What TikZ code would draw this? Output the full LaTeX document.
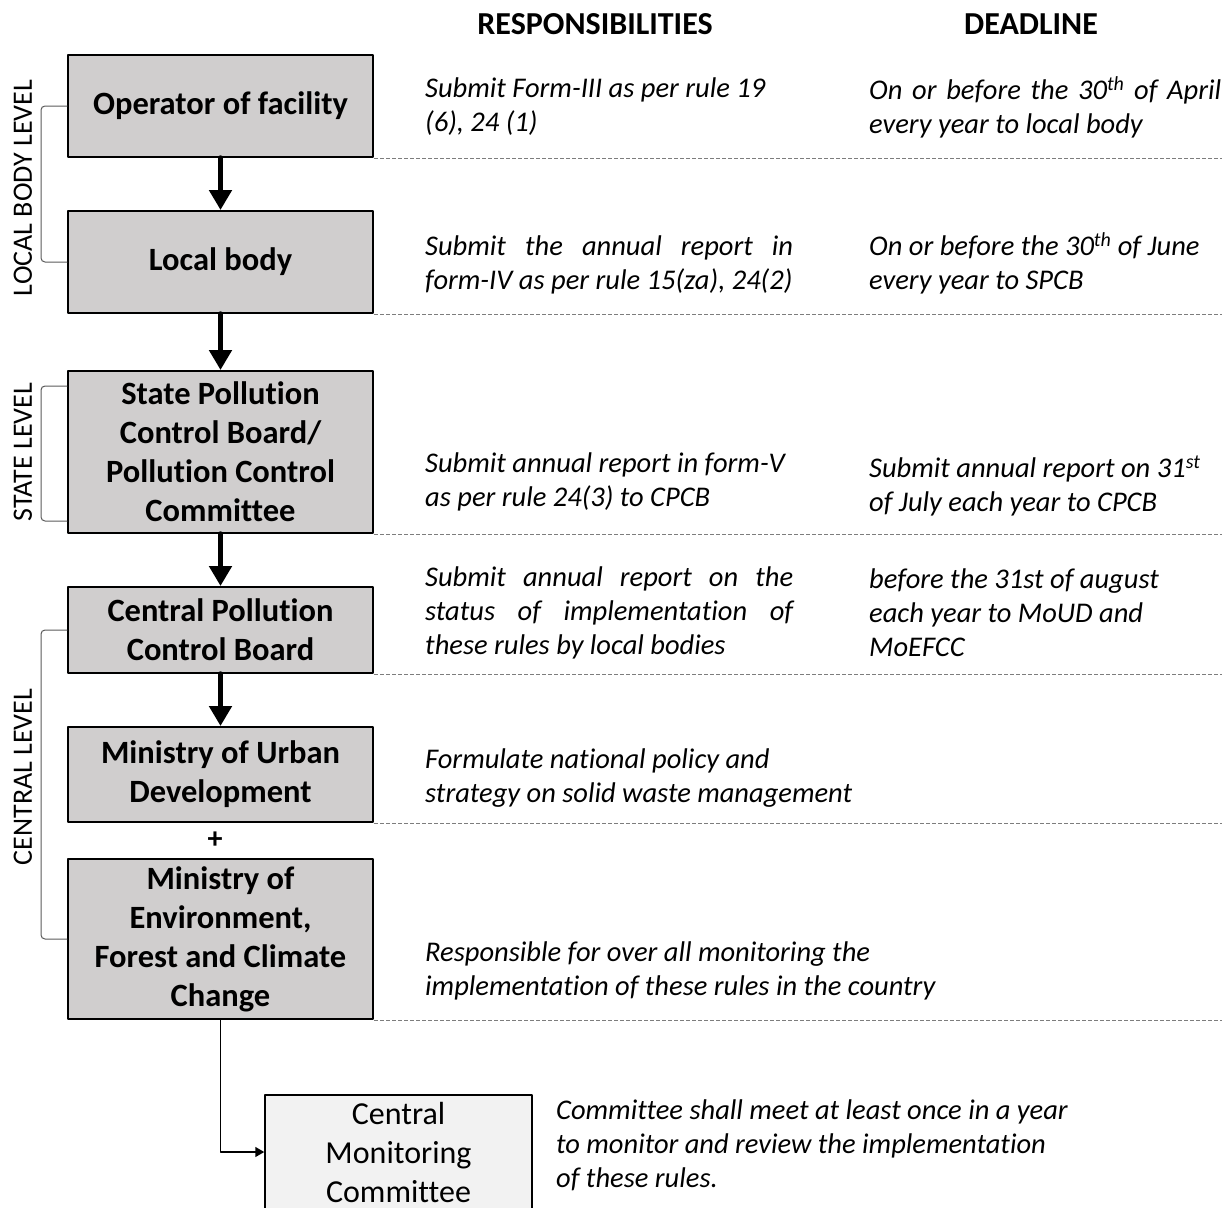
\documentclass[tikz,border=0pt]{standalone}
\usepackage{fontspec}
\setmainfont{Carlito}[Ligatures=NoCommon]
\usepackage{tikz}
\usetikzlibrary{arrows.meta,calc}
\definecolor{boxgray}{RGB}{208,206,206}
\definecolor{lightbox}{RGB}{242,242,242}
\definecolor{dashgray}{RGB}{125,125,125}
\definecolor{bracegray}{RGB}{90,90,90}

\begin{document}
\begin{tikzpicture}[line cap=round,line join=round,x=1pt,y=-1pt,
  orgbox/.style={draw,line width=2pt,fill=boxgray,minimum width=305pt,inner sep=0pt,
    align=center,font=\fontsize{32.5}{39}\selectfont\bfseries},
  monbox/.style={draw,line width=1.5pt,fill=lightbox,minimum width=267pt,minimum height=114pt,
    inner sep=0pt,align=center,font=\fontsize{32}{39}\selectfont},
  flowarr/.style={line width=5.5pt,-{Triangle[width=22pt,length=20pt]}},
  linkarr/.style={line width=1.5pt,line cap=butt,-{Triangle[width=10pt,length=9pt]}},
  sepline/.style={draw=dashgray,line width=1pt,line cap=butt,dash pattern=on 3.5pt off 2.5pt},
  levelbrace/.style={draw=bracegray,line width=1pt,rounded corners=4pt},
  levellabel/.style={rotate=90,inner sep=0pt,font=\fontsize{28}{30}\selectfont},
  headtext/.style={inner sep=0pt,font=\fontsize{32}{34}\selectfont\bfseries},
  resptext/.style={anchor=west,inner sep=0pt,align=left,font=\fontsize{28.5}{34}\selectfont\itshape}]
\useasboundingbox (0,0) rectangle (1231,1207);
\clip (0,0) rectangle (1231,1207);
% headings
\node[headtext] (hresp) at (595,24) {RESPONSIBILITIES};
\node[headtext] (hdead) at (1031,24) {DEADLINE};
% organisation boxes
\node[orgbox,minimum height=102pt] (op) at (220.5,106) {Operator of facility};
\node[orgbox,minimum height=102pt] (lb) at (220.5,262) {Local body};
\node[orgbox,minimum height=162pt] (spcb) at (220.5,452) {State Pollution\\Control Board/\\Pollution Control\\Committee};
\node[orgbox,minimum height=86pt] (cpcb) at (220.5,630) {Central Pollution\\Control Board};
\node[orgbox,minimum height=95pt] (moud) at (220.5,774.5) {Ministry of Urban\\Development};
\node[orgbox,minimum height=160pt] (moefcc) at (220.5,939) {Ministry of\\Environment,\\Forest and Climate\\Change};
\node[font=\fontsize{30}{30}\selectfont\bfseries] (plus) at (215,840) {+};
\node[monbox] (cmc) at (398.5,1152) {Central\\Monitoring\\Committee};
% arrows
\draw[flowarr] (op) -- (lb);
\draw[flowarr] (lb) -- (spcb);
\draw[flowarr] (spcb) -- (cpcb);
\draw[flowarr] (cpcb) -- (moud);
\draw[linkarr] (moefcc.south) |- (cmc.west);
% row separators
\foreach \n in {op,lb,spcb,cpcb,moud,moefcc}
  \draw[sepline] (\n.south east) -- ++(848,0);
% level brackets
\draw[levelbrace] (op.west) -- ++(-26,0) |- (lb.west);
\draw[levelbrace] ($(spcb.north west)+(0,16)$) -- ++(-26,0) |- ($(spcb.south west)+(0,-13)$);
\draw[levelbrace] (cpcb.west) -- ++(-26,0) |- (moefcc.west);
\node[levellabel] (llocal) at (23,188) {LOCAL BODY LEVEL};
\node[levellabel] (lstate) at (23,452) {STATE LEVEL};
\node[levellabel] (lcentral) at (23,777) {CENTRAL LEVEL};
% responsibilities
\node[resptext] (r1) at (425,107) {Submit Form-III as per rule 19\\(6), 24 (1)};
\node[resptext,text width=368pt,align=justify] (r2) at (425,265) {Submit the annual report in\linebreak form-IV as per rule 15(za), 24(2)};
\node[resptext] (r3) at (425,482) {Submit annual report in form-V\\as per rule 24(3) to CPCB};
\node[resptext,text width=368pt,align=justify] (r4) at (425,613) {Submit annual report on the\linebreak status of implementation of\linebreak these rules by local bodies};
\node[resptext] (r5) at (425,778) {Formulate national policy and\\strategy on solid waste management};
\node[resptext] (r6) at (425,971) {Responsible for over all monitoring the\\implementation of these rules in the country};
\node[resptext] (r7) at (556,1145) {Committee shall meet at least once in a year\\to monitor and review the implementation\\of these rules.};
% deadlines
\node[resptext,text width=352pt,align=justify] (d1) at (869,107) {On or before the 30\textsuperscript{th} of April\linebreak every year to local body};
\node[resptext] (d2) at (869,263) {On or before the 30\textsuperscript{th} of June\\every year to SPCB};
\node[resptext] (d3) at (869,486) {Submit annual report on 31\textsuperscript{st}\\of July each year to CPCB};
\node[resptext] (d4) at (869,613) {before the 31st of august\\each year to MoUD and\\MoEFCC};
\end{tikzpicture}
\end{document}
